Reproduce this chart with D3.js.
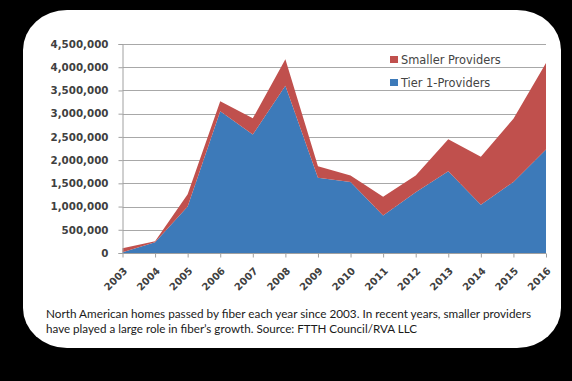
<!DOCTYPE html>
<html>
<head>
<meta charset="utf-8">
<script src="https://cdn.jsdelivr.net/npm/d3@7"></script>
<style>
  html, body { margin: 0; padding: 0; background: #000; }
  svg { display: block; }
</style>
</head>
<body>
<svg id="chart" width="572" height="381"></svg>
<script>
// ---- data ----
const years = ["2003","2004","2005","2006","2007","2008","2009","2010","2011","2012","2013","2014","2015","2016"];
const tier1Providers   = [15000, 230000, 1000000, 3050000, 2550000, 3600000, 1620000, 1530000, 810000, 1310000, 1760000, 1040000, 1530000, 2230000];
const smallerProviders = [85000, 25000, 265000, 215000, 350000, 570000, 250000, 140000, 400000, 360000, 690000, 1030000, 1360000, 1860000];
const yTicks = [0, 500000, 1000000, 1500000, 2000000, 2500000, 3000000, 3500000, 4000000, 4500000];
const seriesNames = ["Tier 1-Providers", "Smaller Providers"];
const legendOrder = ["Smaller Providers", "Tier 1-Providers"];
const captionLines = [
  "North American homes passed by fiber each year since 2003. In recent years, smaller providers",
  "have played a large role in fiber\u2019s growth. Source: FTTH Council/RVA LLC"
];

const colors = { "Tier 1-Providers": "#3d7ab9", "Smaller Providers": "#c0504d" };

const svg = d3.select("#chart");
svg.append("rect").attr("width", 572).attr("height", 381).attr("fill", "#000");
// white card
svg.append("rect").attr("x", 23).attr("y", 10).attr("width", 538).attr("height", 338)
  .attr("rx", 44).attr("ry", 40).attr("fill", "#fff");

const x = d3.scalePoint().domain(years).range([122.5, 546]);
const y = d3.scaleLinear().domain([0, 4500000]).range([253, 44]);

// gridlines
const grid = svg.append("g");
grid.selectAll("line").data(yTicks.filter(d => d > 0)).join("line")
  .attr("x1", 122.5).attr("x2", 546)
  .attr("y1", d => Math.round(y(d)) + 0.5).attr("y2", d => Math.round(y(d)) + 0.5)
  .attr("stroke", "#a8a8a8").attr("stroke-width", 1);

// stacked areas
const table = years.map((yr, i) => ({ year: yr, "Tier 1-Providers": tier1Providers[i], "Smaller Providers": smallerProviders[i] }));
const stack = d3.stack().keys(seriesNames)(table);
const area = d3.area()
  .x(d => x(d.data.year))
  .y0(d => y(d[0]))
  .y1(d => y(d[1]));
svg.append("g").selectAll("path").data(stack).join("path")
  .attr("d", area)
  .attr("fill", d => colors[d.key]);

// y axis
const yAxis = d3.axisLeft(y).tickValues(yTicks).tickSize(4).tickPadding(10)
  .tickFormat(d3.format(","));
const yg = svg.append("g").attr("transform", "translate(122.5,0)").call(yAxis);
yg.select(".domain").attr("stroke", "#a0a0a0");
yg.selectAll(".tick line").attr("stroke", "#a0a0a0");
yg.selectAll(".tick text").attr("fill", "#404040")
  .style("font-family", "'DejaVu Sans', Verdana, sans-serif")
  .style("font-size", "10.3px").style("font-weight", "bold");

// x axis
const xAxis = d3.axisBottom(x).tickSize(4).tickFormat(d => d);
const xg = svg.append("g").attr("transform", "translate(0,253.5)").call(xAxis);
xg.select(".domain").attr("stroke", "#a0a0a0").attr("d", "M122.5,0H546");
xg.selectAll(".tick line").attr("stroke", "#a0a0a0");
xg.selectAll(".tick text")
  .attr("fill", "#404040")
  .attr("text-anchor", "end")
  .attr("y", 0).attr("dy", 0)
  .attr("transform", "translate(5,18) rotate(-45)")
  .style("font-family", "'DejaVu Sans', Verdana, sans-serif")
  .style("font-size", "10px").style("font-weight", "bold");

// legend
const lg = svg.append("g");
legendOrder.forEach((name, i) => {
  const yy = 64 + i * 23;
  lg.append("rect").attr("x", 390).attr("y", yy - 8).attr("width", 8).attr("height", 7)
    .attr("fill", colors[name]);
  lg.append("text").attr("x", 401).attr("y", yy).text(name)
    .attr("fill", "#444")
    .style("font-family", "'DejaVu Sans', Verdana, sans-serif")
    .style("font-size", "11.4px");
});

// caption
const capWidths = [485, 371];
captionLines.forEach((line, i) => {
  svg.append("text").attr("x", 46).attr("y", 318 + i * 15)
    .attr("textLength", capWidths[i]).attr("lengthAdjust", "spacingAndGlyphs")
    .attr("fill", "#1a1a1a")
    .style("font-family", "Lato, 'Open Sans', sans-serif")
    .style("font-size", "12.3px")
    .text(line);
});
</script>
</body>
</html>
